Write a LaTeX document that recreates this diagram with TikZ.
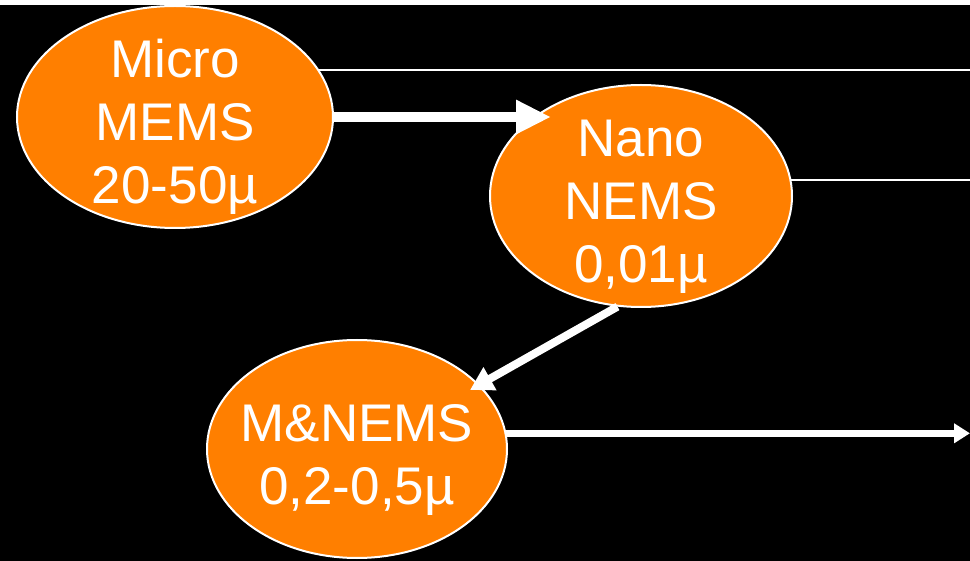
\documentclass[tikz,border=0pt]{standalone}
\usepackage{fontspec}
\setmainfont{Liberation Sans}
\usetikzlibrary{shapes.geometric,arrows.meta}
\definecolor{mems}{RGB}{255,127,0}
\newcommand{\lowerit}{\rule{0pt}{58pt}}
\begin{document}
\begin{tikzpicture}[x=1pt,y=-1pt,
  blob/.style={ellipse,draw=white,line width=2pt,fill=mems,text=white,inner xsep=-20pt,inner ysep=-40pt,
    align=center,font=\fontsize{53}{63}\selectfont},
  thin/.style={draw=white,line width=2.5pt},
  arrA/.style={draw=white,fill=white,line width=10pt,-{Triangle[length=35pt,width=32pt]}},
  arrB/.style={draw=white,fill=white,line width=8pt,-{Triangle[length=23pt,width=25pt]}},
  arrC/.style={draw=white,fill=white,line width=7pt,-{Triangle[length=16pt,width=19pt]}}]
\useasboundingbox (0,0) rectangle (970,561);
\fill[white] (0,0) rectangle (970,6);
\fill[black] (0,5.5) rectangle (970,561);
\node[blob,minimum width=316pt,minimum height=222pt] (micro) at (175,117) {\lowerit Micro\\MEMS\\20-50\textmu};
\node[blob,minimum width=302pt,minimum height=222pt] (nano) at (641,196) {\lowerit Nano\\NEMS\\0,01\textmu};
\node[blob,minimum width=300pt,minimum height=218pt] (mnems) at (357,449) {\lowerit M\&NEMS\\0,2-0,5\textmu};
\coordinate (redge) at (970,0);
\coordinate (t1) at (551,117);
\coordinate (t2) at (470,390);
\draw[thin] (micro.18) -- (micro.18 -| redge);
\draw[thin] (nano.6) -- (nano.6 -| redge);
\draw[arrA] (micro.east) -- (t1);
\draw[arrB] (nano.258) -- (t2);
\draw[arrC] (mnems.6) -- (mnems.6 -| redge);
\end{tikzpicture}
\end{document}
